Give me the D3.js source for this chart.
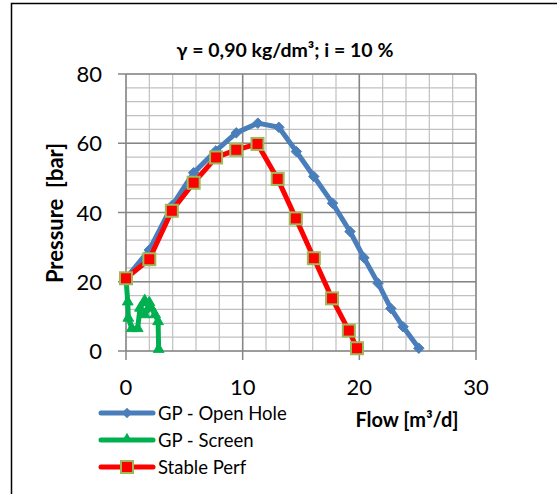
<html>
<head>
<style>
body { margin: 0; background: #fff; }
text { font-family: Lato, "Open Sans", sans-serif; }
</style>
</head>
<body>
<svg width="557" height="494" id="chart"></svg>

<script src="https://d3js.org/d3.v7.min.js"></script>
<script>
// GP - Open Hole
var openX = [0, 2.0, 3.95, 5.8, 7.7, 9.45, 11.3, 13.1, 14.6, 16.1, 17.7, 19.2, 20.4, 21.6, 22.7, 23.75, 25.1];
var openY = [21, 29.2, 42, 51.5, 57.8, 63, 65.8, 64.6, 57.6, 50.4, 42.7, 34.5, 26.9, 19.6, 12.3, 7, 0.8];
// GP - Screen
var screenX = [0, 0.15, 0.2, 0.5, 1.0, 1.2, 1.6, 2.0, 1.6, 2.1, 2.5, 2.75, 2.8];
var screenY = [21, 14.2, 9.5, 6.5, 6.5, 12.4, 14.6, 14, 10.5, 12.8, 10.5, 8.5, 0.5];
// Stable Perf
var perfX = [0, 2.0, 3.93, 5.8, 7.72, 9.45, 11.27, 13.0, 14.56, 16.1, 17.66, 19.1, 19.8];
var perfY = [21, 26.5, 40.5, 48.6, 55.9, 58.1, 59.8, 49.7, 38.3, 26.8, 15.2, 5.9, 0.8];

var xTicks = [0, 10, 20, 30];
var yTicks = [0, 20, 40, 60, 80];
var seriesNames = ["GP - Open Hole", "GP - Screen", "Stable Perf"];

var svg = d3.select("#chart");

// chart area border
svg.append("rect")
    .attr("x", 11.5).attr("y", 3.5)
    .attr("width", 600).attr("height", 600)
    .attr("fill", "none").attr("stroke", "#000").attr("stroke-width", 1.5);

var x = d3.scaleLinear().domain([0, 30]).range([126, 476]);
var y = d3.scaleLinear().domain([0, 80]).range([351, 74]);

var grid = svg.append("g");

// minor grid
grid.selectAll(".vmin")
    .data(d3.range(0, 31, 2))
    .enter().append("line")
    .attr("x1", function(d) { return x(d); })
    .attr("x2", function(d) { return x(d); })
    .attr("y1", y(0)).attr("y2", y(80))
    .style("stroke", "#c0c0c0").style("stroke-width", 1.2);
grid.selectAll(".hmin")
    .data(d3.range(0, 81, 4))
    .enter().append("line")
    .attr("y1", function(d) { return y(d); })
    .attr("y2", function(d) { return y(d); })
    .attr("x1", x(0)).attr("x2", x(30))
    .style("stroke", "#c0c0c0").style("stroke-width", 1.2);

// major grid with outside ticks
grid.selectAll(".vmaj")
    .data(xTicks)
    .enter().append("line")
    .attr("x1", function(d) { return x(d); })
    .attr("x2", function(d) { return x(d); })
    .attr("y1", y(0) + 9).attr("y2", y(80))
    .style("stroke", "#868686").style("stroke-width", 1.5);
grid.selectAll(".hmaj")
    .data(yTicks)
    .enter().append("line")
    .attr("y1", function(d) { return y(d); })
    .attr("y2", function(d) { return y(d); })
    .attr("x1", x(0) - 8).attr("x2", x(30))
    .style("stroke", "#868686").style("stroke-width", 1.5);

// tick labels
svg.selectAll(".xl")
    .data(xTicks)
    .enter().append("text")
    .attr("x", function(d) { return x(d); })
    .attr("y", 395)
    .attr("text-anchor", "middle")
    .style("font-size", "22px")
    .text(function(d) { return d; });
svg.selectAll(".yl")
    .data(yTicks)
    .enter().append("text")
    .attr("x", 102)
    .attr("y", function(d) { return y(d) + 8; })
    .attr("text-anchor", "end")
    .style("font-size", "22px")
    .text(function(d) { return d; });

// titles
svg.append("text")
    .attr("x", 285).attr("y", 57)
    .attr("text-anchor", "middle")
    .style("font-size", "19.5px").style("font-weight", "bold")
    .text("\u03b3 = 0,90 kg/dm\u00b3; i = 10 %");
svg.append("text")
    .attr("transform", "translate(63,213) rotate(-90)")
    .attr("text-anchor", "middle")
    .style("font-size", "22px").style("font-weight", "bold")
    .attr("xml:space", "preserve")
    .text("Pressure  [bar]");
svg.append("text")
    .attr("x", 407).attr("y", 427)
    .attr("text-anchor", "middle")
    .style("font-size", "20px").style("font-weight", "bold")
    .text("Flow [m\u00b3/d]");

var line = d3.line()
    .x(function(d) { return x(d[0]); })
    .y(function(d) { return y(d[1]); });

var colors = ["#4a7ebb", "#00b050", "#ff0000"];
var data = [
    d3.zip(openX, openY),
    d3.zip(screenX, screenY),
    d3.zip(perfX, perfY)
];

var diamond = d3.symbol().type(d3.symbolDiamond2).size(70);
var triangle = d3.symbol().type(d3.symbolTriangle).size(50);

function drawMarkers(g, pts, i) {
    if (i == 0) {
        g.selectAll("path.m").data(pts).enter().append("path")
            .attr("class", "m")
            .attr("d", diamond)
            .attr("transform", function(d) { return "translate(" + x(d[0]) + "," + y(d[1]) + ")"; })
            .style("fill", colors[0]).style("stroke", colors[0]).style("stroke-width", 1);
    } else if (i == 1) {
        g.selectAll("path.m").data(pts.slice(1)).enter().append("path")
            .attr("class", "m")
            .attr("d", triangle)
            .attr("transform", function(d) { return "translate(" + x(d[0]) + "," + y(d[1]) + ")"; })
            .style("fill", colors[1]).style("stroke", colors[1]).style("stroke-width", 1);
    } else {
        g.selectAll("rect.m").data(pts).enter().append("rect")
            .attr("class", "m")
            .attr("x", function(d) { return x(d[0]) - 6; })
            .attr("y", function(d) { return y(d[1]) - 6; })
            .attr("width", 12).attr("height", 12)
            .style("fill", colors[2]).style("stroke", "#9bbb59").style("stroke-width", 2);
    }
}

// draw order: open hole, screen, stable perf on top
[0, 1, 2].forEach(function(i) {
    var g = svg.append("g");
    g.append("path")
        .datum(data[i])
        .attr("d", line)
        .style("fill", "none")
        .style("stroke", colors[i])
        .style("stroke-width", 5)
        .style("stroke-linejoin", "round")
        .style("stroke-linecap", "round");
    drawMarkers(g, data[i], i);
});

// legend
var leg = svg.append("g");
seriesNames.forEach(function(name, i) {
    var ly = 413 + i * 27;
    var g = leg.append("g");
    g.append("line")
        .attr("x1", 101).attr("x2", 153)
        .attr("y1", ly).attr("y2", ly)
        .style("stroke", colors[i]).style("stroke-width", 5)
        .style("stroke-linecap", "round");
    if (i == 0) {
        g.append("path").attr("d", diamond)
            .attr("transform", "translate(127," + ly + ")")
            .style("fill", colors[0]);
    } else if (i == 1) {
        g.append("path").attr("d", triangle)
            .attr("transform", "translate(127," + (ly - 1) + ")")
            .style("fill", colors[1]);
    } else {
        g.append("rect")
            .attr("x", 121).attr("y", ly - 6)
            .attr("width", 12).attr("height", 12)
            .style("fill", colors[2]).style("stroke", "#9bbb59").style("stroke-width", 2);
    }
    g.append("text")
        .attr("x", 158).attr("y", ly + 6.5)
        .style("font-size", "18.5px")
        .text(name);
});
</script>
</body>
</html>
